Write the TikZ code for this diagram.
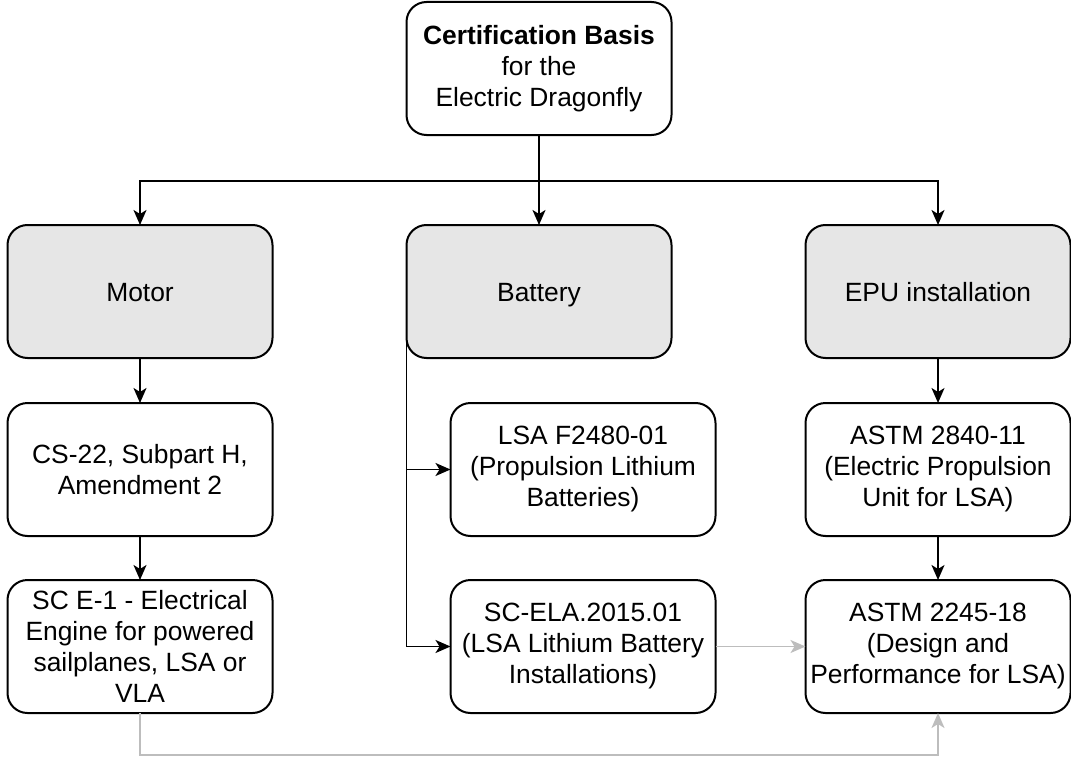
\documentclass[tikz,border=0pt]{standalone}
\usepackage{fontspec}
\setmainfont{Liberation Sans}
\usepackage{tikz}
\usetikzlibrary{arrows.meta,positioning}
\definecolor{boxgray}{HTML}{E6E6E6}
\definecolor{linkgray}{HTML}{BDBDBD}

\begin{document}
\begin{tikzpicture}[
  x=1pt, y=1pt,
  box/.style={draw, line width=2pt, rounded corners=20pt, minimum width=265pt, minimum height=133pt,
    inner sep=0pt, outer sep=0pt, align=center, font=\fontsize{26.4}{31}\selectfont, fill=#1},
  box/.default=white,
  headbox/.style={box=boxgray, text height=19pt, text depth=0pt},
  arr/.style={-{Stealth[length=15pt, width=13pt, inset=4pt]}, line width=1.8pt},
  grayarr/.style={arr, color=linkgray},
]
  \useasboundingbox (0,0) rectangle (1071,-760);
  \node[box] (cert) at (539,-68.5) {\textbf{Certification Basis}\\for the\\Electric Dragonfly};
  \node[headbox, below=90pt of cert] (battery) {Battery};
  \node[headbox, left=134pt of battery] (motor) {Motor};
  \node[headbox, right=134pt of battery] (epu) {EPU installation};
  \node[box, below=45pt of motor] (cs22) {CS-22, Subpart H,\\Amendment 2};
  \node[box, below=44pt of cs22] (sce1) {SC E-1 - Electrical\\Engine for powered\\sailplanes, LSA or\\VLA};
  \node[box, below=45pt of battery, xshift=44pt] (lsa) {LSA F2480-01\\(Propulsion Lithium\\Batteries)};
  \node[box, below=44pt of lsa] (scela) {SC-ELA.2015.01\\(LSA Lithium Battery\\Installations)};
  \node[box, below=45pt of epu] (astmepu) {ASTM 2840-11\\(Electric Propulsion\\Unit for LSA)};
  \node[box, below=44pt of astmepu] (astmlsa) {ASTM 2245-18\\(Design and\\Performance for LSA)};

  \draw[arr] (cert.south) -- (battery.north);
  \draw[arr] (cert.south) -- ++(0,-46) -| (motor.north);
  \draw[arr] (cert.south) -- ++(0,-46) -| (epu.north);
  \draw[arr] (motor) -- (cs22);
  \draw[arr] (cs22) -- (sce1);
  \draw[arr] (epu) -- (astmepu);
  \draw[arr] (astmepu) -- (astmlsa);
  \draw[arr] (battery.west) |- (lsa.west);
  \draw[arr] (battery.west) |- (scela.west);
  \draw[grayarr] (scela) -- (astmlsa);
  \draw[grayarr] (sce1.south) -- ++(0,-42) -| (astmlsa.south);
\end{tikzpicture}
\end{document}
